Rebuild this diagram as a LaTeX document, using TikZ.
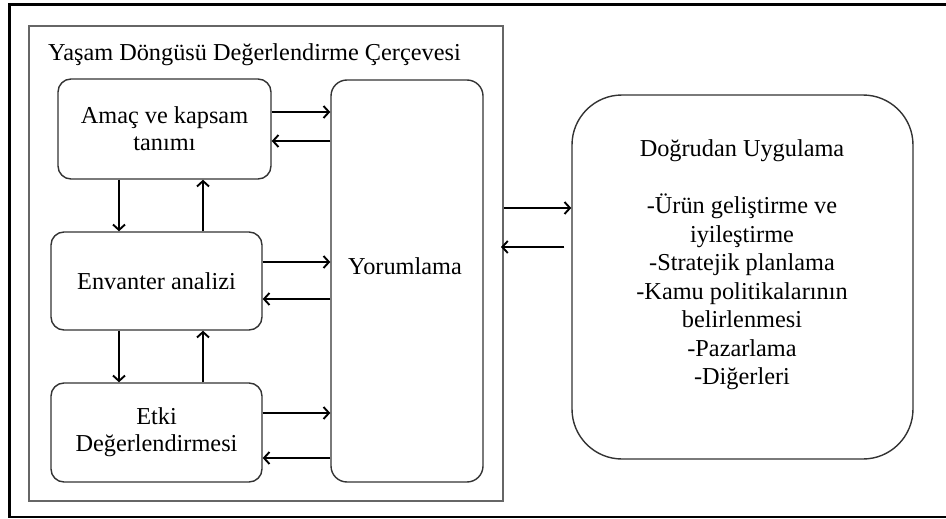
\documentclass[tikz,border=0pt]{standalone}
\usepackage{fontspec}
\setmainfont{Liberation Serif}
\usetikzlibrary{arrows.meta,calc}
\begin{document}
\begin{tikzpicture}[x=1pt,y=-1pt,
  box/.style={draw=black!80, line width=1.4pt, rounded corners=13pt, inner sep=0pt, align=center, font=\fontsize{24.3}{27}\selectfont},
  arr/.style={line width=2.1pt, -{Straight Barb[length=5.5pt,width=12pt,line width=1.9pt]}},
  txt/.style={inner sep=0pt, align=center, font=\fontsize{24.3}{27}\selectfont}]
\useasboundingbox (0,0) rectangle (946,519);
\draw[line width=2.6pt] (946,4.5) -- (9.5,4.5) -- (9.5,517) -- (946,517);
\node (frame) [draw=black!60, line width=2pt, minimum width=474pt, minimum height=475pt, inner sep=0pt] at (266,263.5) {};
\node (title) [txt, anchor=base west] at (48,61) {Yaşam Döngüsü Değerlendirme Çerçevesi};
\node (amac) [box, minimum width=213pt, minimum height=100pt] at (164.5,129) {Amaç ve kapsam\\tanımı};
\node (env) [box, minimum width=211pt, minimum height=98pt] at (156.5,281) {Envanter analizi};
\node (etki) [box, minimum width=211pt, minimum height=99pt] at (156.5,432.5) {Etki\\Değerlendirmesi};
\node (yor) [box, minimum width=152pt, minimum height=402pt, rounded corners=16pt] at (407,281) {};
\node (yortxt) [txt] at (405,266) {Yorumlama};
\node (dog) [box, minimum width=341pt, minimum height=364pt, rounded corners=50pt] at (742.5,277) {};
\node (dogt) [txt, anchor=base] at (742,157) {Doğrudan Uygulama};
\node (dogl) [txt, font=\fontsize{24.3}{28.5}\selectfont, anchor=north] at (742,194) {-Ürün geliştirme ve\\iyileştirme\\-Stratejik planlama\\-Kamu politikalarının\\belirlenmesi\\-Pazarlama\\-Diğerleri};
% amac <-> yorumlama
\draw[arr] ([yshift=17pt]amac.east) -- ([yshift=17pt]amac.east -| yor.west);
\draw[arr] ([yshift=-12pt]amac.east -| yor.west) -- ([yshift=-12pt]amac.east);
% envanter <-> yorumlama
\draw[arr] ([yshift=19pt]env.east) -- ([yshift=19pt]env.east -| yor.west);
\draw[arr] ([yshift=-18pt]env.east -| yor.west) -- ([yshift=-18pt]env.east);
% etki <-> yorumlama
\draw[arr] ([yshift=19.5pt]etki.east) -- ([yshift=19.5pt]etki.east -| yor.west);
\draw[arr] ([yshift=-25.5pt]etki.east -| yor.west) -- ([yshift=-25.5pt]etki.east);
% vertical
\draw[arr] ([xshift=-45.5pt]amac.south) -- ([xshift=-45.5pt]amac.south |- env.north);
\draw[arr] ([xshift=38.5pt]amac.south |- env.north) -- ([xshift=38.5pt]amac.south);
\draw[arr] ([xshift=-37.5pt]env.south) -- ([xshift=-37.5pt]env.south |- etki.north);
\draw[arr] ([xshift=46.5pt]env.south |- etki.north) -- ([xshift=46.5pt]env.south);
% frame <-> dogrudan
\draw[arr] ($(dog.west -| frame.east)+(0pt,69pt)$) -- ($(dog.west)+(0pt,69pt)$);
\draw[arr] ($(dog.west)+(-7pt,30pt)$) -- ($(dog.west -| frame.east)+(-3pt,30pt)$);
\end{tikzpicture}
\end{document}
